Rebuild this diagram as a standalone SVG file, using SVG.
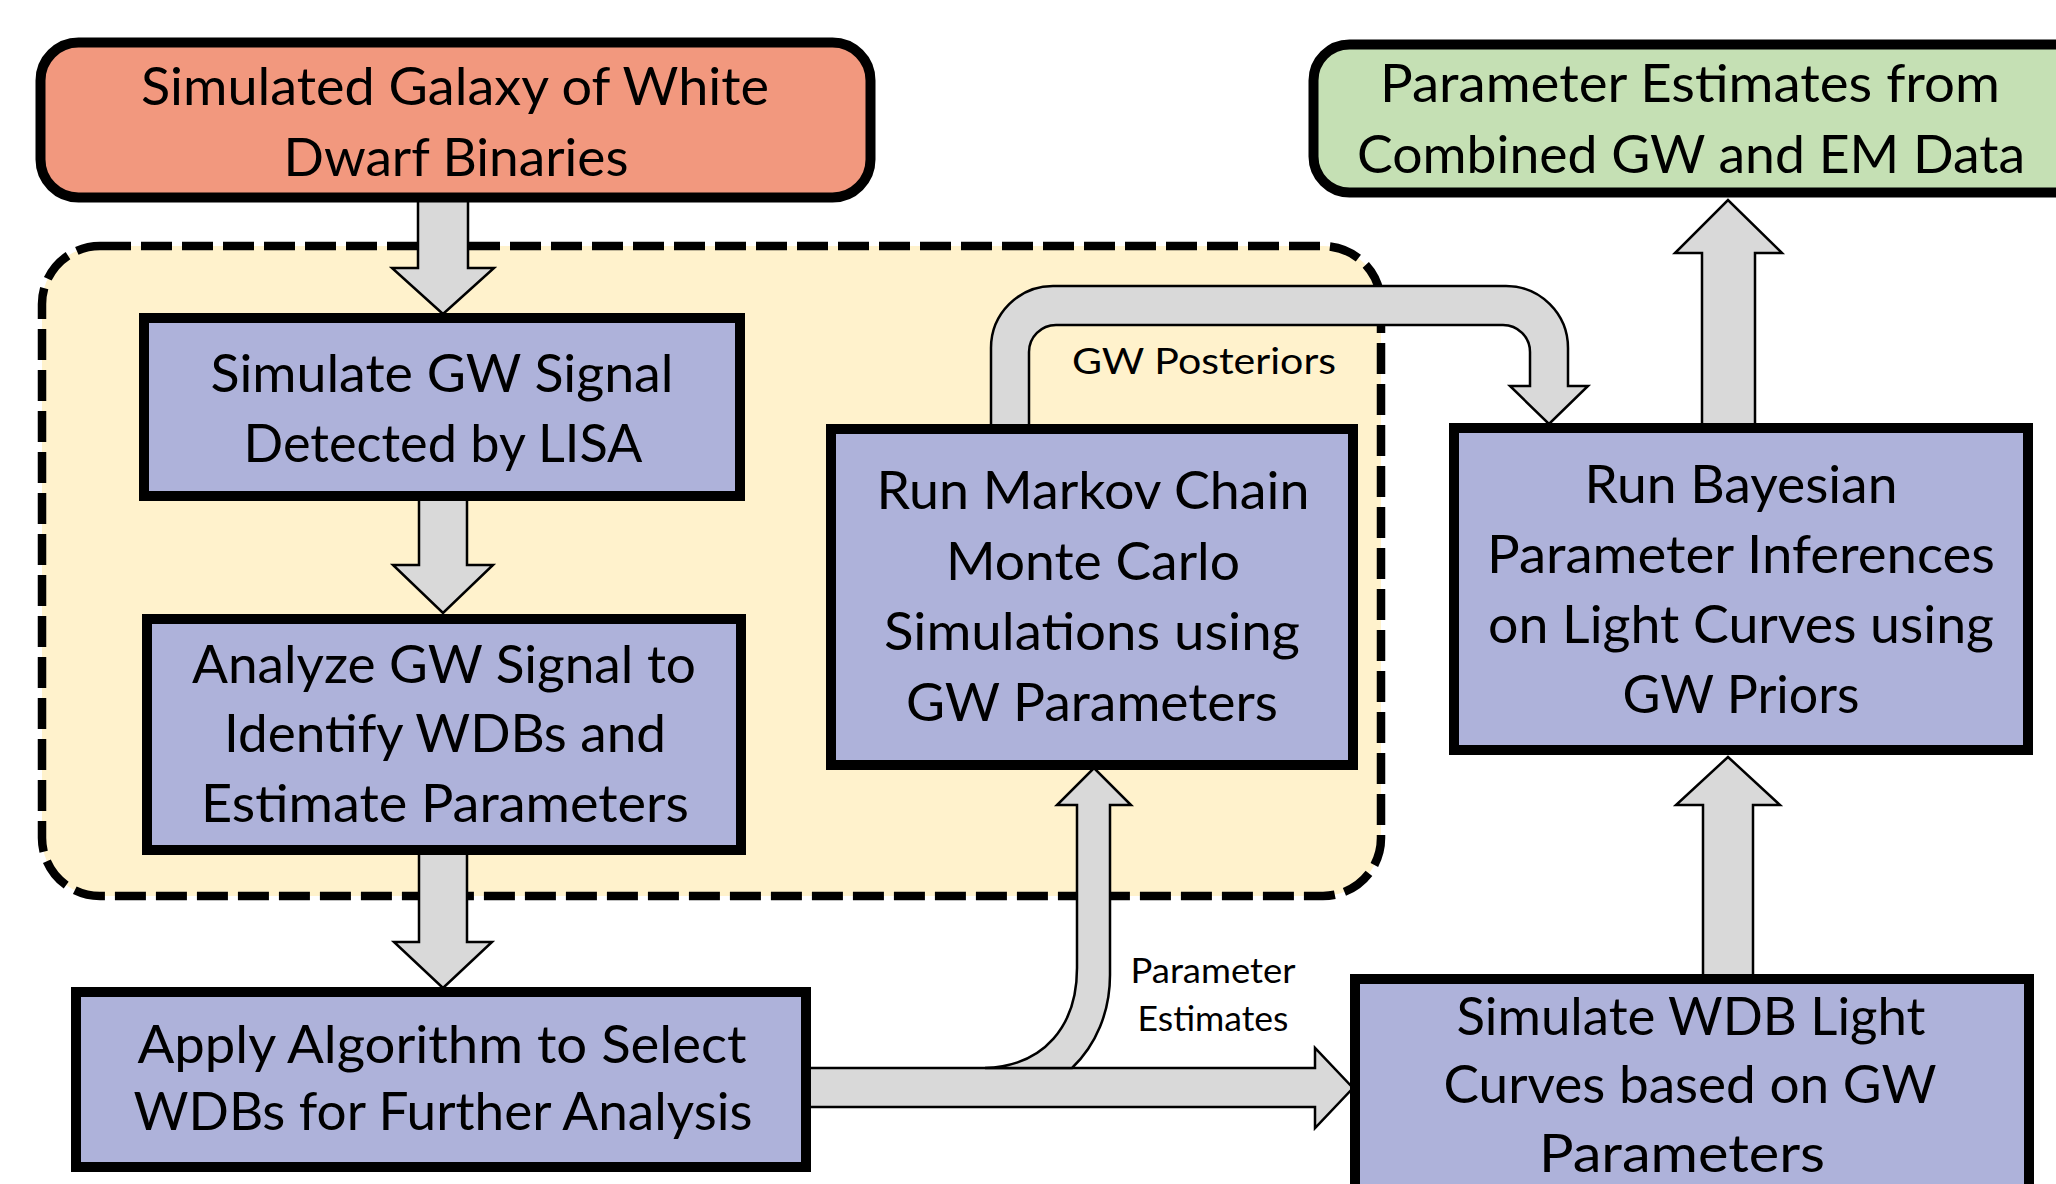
<svg xmlns="http://www.w3.org/2000/svg" width="2056" height="1184" viewBox="0 0 2056 1184">
  <style>
    .box { stroke: #000; stroke-width: 10; }
    .sim { fill: #AEB2DA; }
    .start { fill: #F2987E; }
    .result { fill: #C5E0B4; }
    .group { fill: #FFF2CC; stroke: #000; stroke-width: 8.5; stroke-dasharray: 31 10; }
    .arrow { fill: #D9D9D9; stroke: #000; stroke-width: 2.5; stroke-linejoin: miter; }
    .t { font-family: Lato, "Open Sans", "Liberation Sans", sans-serif; font-size: 52px; fill: #000; text-anchor: middle; }
    .lbl { font-family: Lato, "Open Sans", "Liberation Sans", sans-serif; font-size: 37px; fill: #000; text-anchor: middle; }
    .lbl2 { font-family: Lato, "Open Sans", "Liberation Sans", sans-serif; font-size: 34px; fill: #000; text-anchor: middle; }
  </style>

  <rect width="2056" height="1184" fill="#FFFFFF"/>

  <!-- GW analysis stage enclosed by a dashed frame -->
  <g id="gw-stage">
    <rect class="group" x="42" y="246" width="1339" height="650" rx="58" ry="58"/>
  </g>

  <!-- block arrows between the steps -->
  <g id="connectors">
    <!-- galaxy -> simulate GW signal -->
    <path class="arrow" d="M418 200 L468 200 L468 268 L494 268 L443 314 L392 268 L418 268 Z"/>
    <!-- simulate GW signal -> analyze -->
    <path class="arrow" d="M419 498 L467 498 L467 565 L493 565 L443 613 L393 565 L419 565 Z"/>
    <!-- analyze -> apply algorithm -->
    <path class="arrow" d="M419 852 L467 852 L467 942 L492 942 L443 988 L394 942 L419 942 Z"/>
    <!-- apply algorithm -> simulate light curves -->
    <path class="arrow" d="M808 1068 L1315 1068 L1315 1048 L1353 1088 L1315 1128 L1315 1107 L808 1107 Z"/>
    <!-- parameter estimates branch up to MCMC -->
    <path class="arrow" d="M985 1068 C1045 1066 1077 1025 1077 968 L1077 805 L1057 805 L1094 768 L1131 805 L1110 805 L1110 975 C1110 1012 1096 1045 1072 1068 Z"/>
    <!-- GW posteriors from MCMC over to Bayesian inference -->
    <path class="arrow" d="M991 428 L991 348 A62 62 0 0 1 1053 286 L1506 286 A62 62 0 0 1 1568 348 L1568 386 L1588 386 L1549 424 L1510 386 L1530 386 L1530 352 A27 27 0 0 0 1503 325 L1056 325 A27 27 0 0 0 1029 352 L1029 428 Z"/>
    <!-- light curves -> Bayesian inference -->
    <path class="arrow" d="M1703 976 L1753 976 L1753 805 L1780 805 L1728 757 L1676 805 L1703 805 Z"/>
    <!-- Bayesian inference -> combined estimates -->
    <path class="arrow" d="M1702 426 L1755 426 L1755 253 L1782 253 L1728 200 L1675 253 L1702 253 Z"/>
    <text class="lbl" x="1204" y="374" textLength="264" lengthAdjust="spacingAndGlyphs">GW Posteriors</text>
    <text class="lbl2" x="1213" y="983" textLength="165" lengthAdjust="spacingAndGlyphs">Parameter</text>
    <text class="lbl2" x="1213" y="1031" textLength="151" lengthAdjust="spacingAndGlyphs">Estimates</text>
  </g>

  <g id="galaxy">
    <rect class="box start" x="40.5" y="42.5" width="830" height="155" rx="38" ry="38"/>
    <text class="t" x="455" y="105" textLength="628" lengthAdjust="spacingAndGlyphs">Simulated Galaxy of White</text>
    <text class="t" x="456" y="176" textLength="345" lengthAdjust="spacingAndGlyphs">Dwarf Binaries</text>
  </g>

  <g id="combined-estimates">
    <rect class="box result" x="1313.5" y="44.5" width="800" height="148" rx="36" ry="36"/>
    <text class="t" x="1690" y="102" textLength="620" lengthAdjust="spacingAndGlyphs">Parameter Estimates from</text>
    <text class="t" x="1691" y="173" textLength="668" lengthAdjust="spacingAndGlyphs">Combined GW and EM Data</text>
  </g>

  <g id="simulate-gw">
    <rect class="box sim" x="144" y="318" width="596" height="178"/>
    <text class="t" x="442" y="392" textLength="463" lengthAdjust="spacingAndGlyphs">Simulate GW Signal</text>
    <text class="t" x="443" y="462" textLength="399" lengthAdjust="spacingAndGlyphs">Detected by LISA</text>
  </g>

  <g id="analyze-gw">
    <rect class="box sim" x="147" y="619" width="594" height="231"/>
    <text class="t" x="444" y="683" textLength="504" lengthAdjust="spacingAndGlyphs">Analyze GW Signal to</text>
    <text class="t" x="445" y="752" textLength="442" lengthAdjust="spacingAndGlyphs">Identify WDBs and</text>
    <text class="t" x="445" y="822" textLength="488" lengthAdjust="spacingAndGlyphs">Estimate Parameters</text>
  </g>

  <g id="mcmc">
    <rect class="box sim" x="831" y="429" width="522" height="336"/>
    <text class="t" x="1093" y="509" textLength="433" lengthAdjust="spacingAndGlyphs">Run Markov Chain</text>
    <text class="t" x="1093" y="580" textLength="294" lengthAdjust="spacingAndGlyphs">Monte Carlo</text>
    <text class="t" x="1092" y="650" textLength="416" lengthAdjust="spacingAndGlyphs">Simulations using</text>
    <text class="t" x="1092" y="721" textLength="372" lengthAdjust="spacingAndGlyphs">GW Parameters</text>
  </g>

  <g id="bayesian">
    <rect class="box sim" x="1454" y="428" width="574" height="322"/>
    <text class="t" x="1741" y="503" textLength="313" lengthAdjust="spacingAndGlyphs">Run Bayesian</text>
    <text class="t" x="1741" y="573" textLength="508" lengthAdjust="spacingAndGlyphs">Parameter Inferences</text>
    <text class="t" x="1741" y="643" textLength="506" lengthAdjust="spacingAndGlyphs">on Light Curves using</text>
    <text class="t" x="1741" y="713" textLength="237" lengthAdjust="spacingAndGlyphs">GW Priors</text>
  </g>

  <g id="select-wdbs">
    <rect class="box sim" x="76" y="992" width="730" height="175"/>
    <text class="t" x="442" y="1063" textLength="609" lengthAdjust="spacingAndGlyphs">Apply Algorithm to Select</text>
    <text class="t" x="443" y="1130" textLength="619" lengthAdjust="spacingAndGlyphs">WDBs for Further Analysis</text>
  </g>

  <g id="light-curves">
    <rect class="box sim" x="1355" y="979" width="674" height="300"/>
    <text class="t" x="1691" y="1035" textLength="469" lengthAdjust="spacingAndGlyphs">Simulate WDB Light</text>
    <text class="t" x="1690" y="1103" textLength="493" lengthAdjust="spacingAndGlyphs">Curves based on GW</text>
    <text class="t" x="1682" y="1172" textLength="286" lengthAdjust="spacingAndGlyphs">Parameters</text>
  </g>
</svg>
